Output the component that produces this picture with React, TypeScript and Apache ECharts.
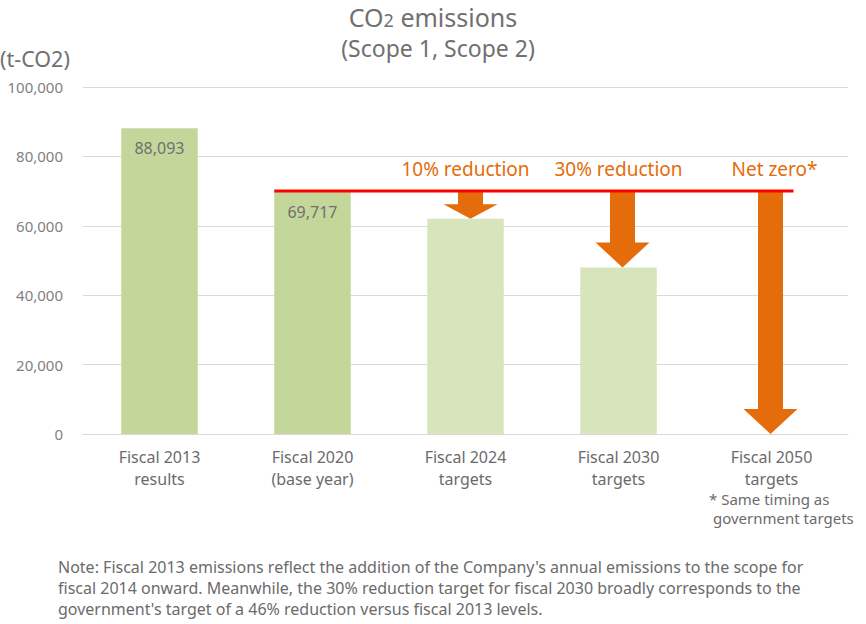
import React, { useEffect, useRef } from 'react';
import * as echarts from 'echarts';

const categories = [
  'Fiscal 2013\nresults',
  'Fiscal 2020\n(base year)',
  'Fiscal 2024\ntargets',
  'Fiscal 2030\ntargets',
  'Fiscal 2050\ntargets',
];
const emissions: (number | null)[] = [88093, 69717, 62000, 48000, null];
const actualCount = 2; // first two bars are actual results (labelled, darker)
const baseYearIndex = 1;
const baseYearValue = 69717;
const targetIndices = [2, 3, 4];
const targetValues = [62000, 48000, 0];
const targetLabels = ['10% reduction', '30% reduction', 'Net zero*'];
const yTicksMax = 100000;
const yTickStep = 20000;
const noteLines = [
  "Note: Fiscal 2013 emissions reflect the addition of the Company's annual emissions to the scope for",
  'fiscal 2014 onward. Meanwhile, the 30% reduction target for fiscal 2030 broadly corresponds to the',
  "government's target of a 46% reduction versus fiscal 2013 levels.",
];
const footnoteLines = ['* Same timing as', 'government targets'];

const FONT = '"Noto Sans", sans-serif';
const ORANGE = '#e46c0a';
const GREY = '#6b6b6b';

export default function App() {
  const ref = useRef<HTMLDivElement>(null);
  useEffect(() => {
    if (!ref.current) return;
    const chart = echarts.init(ref.current, undefined, { renderer: 'svg' });
    const arrowOffsets = [5, 4, -1];
    const option: any = {
      animation: false,
      textStyle: { fontFamily: FONT },
      grid: { left: 83, right: 18, top: 87, bottom: 190, containLabel: false },
      xAxis: {
        type: 'category',
        data: categories,
        axisTick: { show: false },
        axisLine: { lineStyle: { color: '#d9d9d9', width: 1 } },
        axisLabel: {
          interval: 0,
          fontFamily: FONT,
          fontSize: 16,
          lineHeight: 22,
          color: GREY,
          margin: 12,
        },
      },
      yAxis: {
        type: 'value',
        min: 0,
        max: yTicksMax,
        interval: yTickStep,
        axisLine: { show: false },
        axisTick: { show: false },
        splitLine: { lineStyle: { color: '#d9d9d9', width: 1 } },
        axisLabel: {
          fontFamily: FONT,
          fontSize: 15,
          color: '#7f7f7f',
          margin: 20,
          formatter: (v: number) => v.toLocaleString('en-US'),
        },
      },
      series: [
        {
          type: 'bar',
          barWidth: '50%',
          data: emissions.map((v, i) => ({
            value: v,
            itemStyle: { color: i < actualCount ? '#c4d79b' : '#d8e4bc' },
            label: {
              show: i < actualCount,
              position: 'insideTop',
              distance: 12,
              fontFamily: FONT,
              fontSize: 16,
              color: '#707070',
              formatter: (p: any) => Number(p.value).toLocaleString('en-US'),
            },
          })),
          z: 2,
        },
        {
          type: 'custom',
          z: 3,
          data: targetIndices.map((c, i) => [c, baseYearValue, targetValues[i], i]),
          renderItem: (params: any, api: any) => {
            const cat = api.value(0);
            const from = api.value(1);
            const to = api.value(2);
            const idx = api.value(3);
            const top = api.coord([cat, from]);
            const bot = api.coord([cat, to]);
            const cx = top[0] + arrowOffsets[idx];
            const y0 = top[1];
            const y1 = bot[1];
            const len = y1 - y0;
            const headH = Math.min(25, len * 0.55);
            const sh = 12.5;
            const hh = 27;
            return {
              type: 'group',
              children: [
                {
                  type: 'polygon',
                  shape: {
                    points: [
                      [cx - sh, y0],
                      [cx + sh, y0],
                      [cx + sh, y1 - headH],
                      [cx + hh, y1 - headH],
                      [cx, y1],
                      [cx - hh, y1 - headH],
                      [cx - sh, y1 - headH],
                    ],
                  },
                  style: { fill: ORANGE },
                },
                {
                  type: 'text',
                  x: top[0] + (idx === 2 ? 3 : 0),
                  y: y0 - 23,
                  style: {
                    text: targetLabels[idx],
                    fill: ORANGE,
                    font: `19px ${FONT}`,
                    align: 'center',
                    verticalAlign: 'middle',
                  },
                },
              ],
            };
          },
        },
        {
          type: 'custom',
          z: 4,
          data: [[baseYearIndex, baseYearValue]],
          renderItem: (params: any, api: any) => {
            const v = api.value(1);
            const start = api.coord([api.value(0), v]);
            const end = api.coord([targetIndices[targetIndices.length - 1], v]);
            const band = api.size([1, 0])[0];
            return {
              type: 'line',
              shape: { x1: start[0] - band * 0.25, y1: start[1] - 1, x2: end[0] + 22, y2: start[1] - 1 },
              style: { stroke: '#ff0000', lineWidth: 3 },
            };
          },
        },
      ],
      graphic: [
        {
          type: 'text',
          x: 433,
          y: 14,
          style: {
            text: '{a|CO}{s|2}{a| emissions}',
            align: 'center',
            verticalAlign: 'middle',
            fill: '#707070',
            rich: {
              a: { fontFamily: FONT, fontSize: 25, color: '#707070', verticalAlign: 'bottom', lineHeight: 30 },
              s: { fontFamily: FONT, fontSize: 18, color: '#707070', verticalAlign: 'bottom', lineHeight: 30 },
            },
          },
        },
        {
          type: 'text',
          x: 438,
          y: 48,
          style: {
            text: '(Scope 1, Scope 2)',
            font: `23px ${FONT}`,
            fill: '#707070',
            align: 'center',
            verticalAlign: 'middle',
          },
        },
        {
          type: 'text',
          x: 0,
          y: 58,
          style: {
            text: '(t-CO2)',
            font: `21.5px ${FONT}`,
            fill: '#707070',
            align: 'left',
            verticalAlign: 'middle',
          },
        },
        {
          type: 'text',
          x: 709,
          y: 499,
          style: { text: footnoteLines[0], font: `15px ${FONT}`, fill: GREY, align: 'left', verticalAlign: 'middle' },
        },
        {
          type: 'text',
          x: 713,
          y: 518,
          style: { text: footnoteLines[1], font: `15px ${FONT}`, fill: GREY, align: 'left', verticalAlign: 'middle' },
        },
        ...noteLines.map((t, i) => ({
          type: 'text',
          x: 58,
          y: 567 + i * 21,
          style: { text: t, font: `16px ${FONT}`, fill: GREY, align: 'left', verticalAlign: 'middle' },
        })),
      ],
    };
    chart.setOption(option);
    return () => chart.dispose();
  }, []);
  return (
    <div
      ref={ref}
      style={{ position: 'absolute', left: 0, top: 0, width: 866, height: 624, background: '#fff' }}
    />
  );
}
